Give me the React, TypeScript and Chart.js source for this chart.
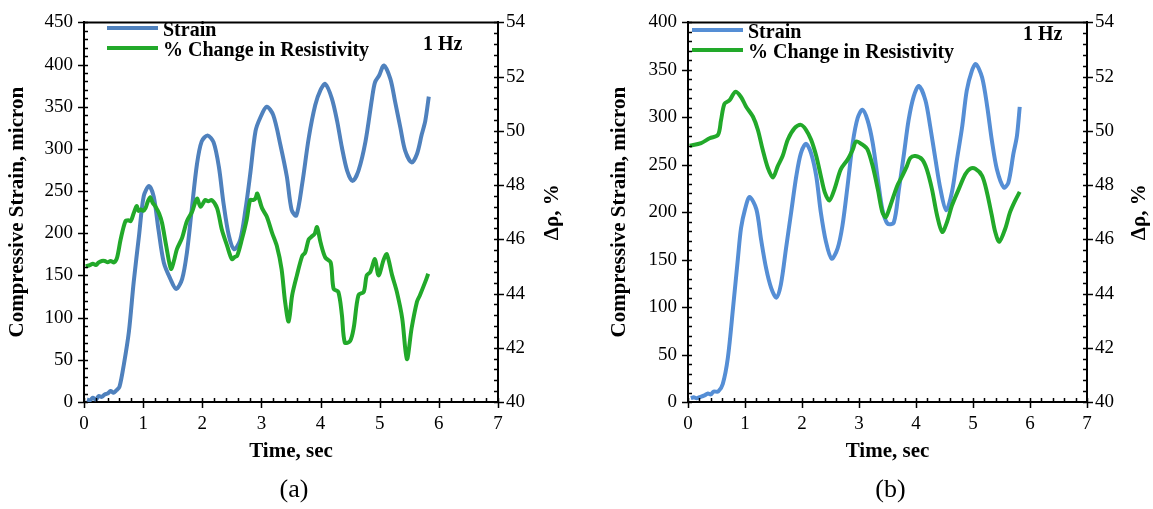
import React, { useEffect, useRef } from "react";
import { Chart, registerables } from "chart.js";

Chart.register(...registerables);

// ---------- Panel (a) data ----------
const aStrainTime = [0.05, 0.1, 0.15, 0.2, 0.25, 0.3, 0.35, 0.4, 0.45, 0.5, 0.55, 0.6, 0.675, 0.76, 0.84, 0.93, 1.01, 1.1, 1.18, 1.26, 1.35, 1.46, 1.56, 1.66, 1.74, 1.82, 1.91, 1.99, 2.09, 2.19, 2.28, 2.36, 2.45, 2.54, 2.64, 2.73, 2.81, 2.9, 2.98, 3.09, 3.2, 3.32, 3.43, 3.51, 3.59, 3.69, 3.8, 3.91, 4.0, 4.08, 4.19, 4.28, 4.36, 4.45, 4.54, 4.64, 4.76, 4.87, 4.92, 4.99, 5.07, 5.18, 5.26, 5.35, 5.43, 5.54, 5.63, 5.71, 5.77, 5.83];
const aStrain = [3, 2, 5, 3, 7, 6, 9, 10, 13, 11, 14, 18, 45, 84, 142, 197, 244, 256, 243, 204, 165, 146, 134, 146, 177, 227, 282, 309, 316, 308, 279, 235, 197, 181, 192, 228, 270, 321, 337, 350, 340, 305, 267, 228, 221, 259, 313, 352, 370, 377, 360, 333, 302, 274, 262, 274, 309, 360, 379, 387, 399, 383, 356, 325, 298, 284, 294, 317, 333, 362];
const aResTime = [0.03, 0.1, 0.15, 0.2, 0.25, 0.3, 0.35, 0.4, 0.45, 0.51, 0.56, 0.62, 0.7, 0.75, 0.79, 0.84, 0.89, 0.92, 0.96, 1.0, 1.04, 1.08, 1.12, 1.16, 1.21, 1.27, 1.32, 1.39, 1.47, 1.52, 1.57, 1.66, 1.74, 1.83, 1.91, 1.97, 2.05, 2.1, 2.16, 2.25, 2.33, 2.42, 2.5, 2.55, 2.59, 2.67, 2.75, 2.81, 2.86, 2.9, 2.93, 3.01, 3.09, 3.18, 3.26, 3.34, 3.4, 3.46, 3.52, 3.6, 3.69, 3.74, 3.8, 3.86, 3.9, 3.94, 4.0, 4.08, 4.17, 4.22, 4.3, 4.36, 4.41, 4.5, 4.56, 4.64, 4.73, 4.78, 4.84, 4.92, 4.98, 5.07, 5.12, 5.21, 5.29, 5.38, 5.46, 5.54, 5.63, 5.68, 5.77, 5.82];
const aRes = [45.0, 45.05, 45.1, 45.05, 45.15, 45.2, 45.2, 45.15, 45.2, 45.15, 45.33, 46.0, 46.67, 46.7, 46.67, 46.96, 47.23, 47.05, 47.1, 47.05, 47.15, 47.4, 47.55, 47.35, 47.2, 46.95, 46.6, 45.76, 44.91, 45.2, 45.63, 46.06, 46.67, 47.03, 47.5, 47.2, 47.45, 47.4, 47.45, 47.15, 46.36, 45.76, 45.27, 45.35, 45.39, 46.0, 46.72, 47.45, 47.45, 47.51, 47.69, 47.15, 46.84, 46.24, 45.76, 44.91, 43.7, 42.97, 43.94, 44.67, 45.39, 45.51, 46.0, 46.12, 46.2, 46.45, 45.88, 45.33, 45.15, 44.18, 44.06, 43.22, 42.19, 42.25, 42.73, 43.94, 44.06, 44.67, 44.79, 45.27, 44.67, 45.27, 45.45, 44.67, 44.06, 43.09, 41.58, 42.73, 43.7, 43.94, 44.43, 44.73];

// ---------- Panel (b) data ----------
const bStrainTime = [0.05, 0.1, 0.15, 0.2, 0.29, 0.35, 0.4, 0.45, 0.53, 0.61, 0.7, 0.79, 0.875, 0.93, 1.0, 1.08, 1.2, 1.28, 1.37, 1.46, 1.55, 1.63, 1.72, 1.81, 1.9, 1.98, 2.07, 2.16, 2.25, 2.33, 2.42, 2.52, 2.625, 2.71, 2.8, 2.89, 2.975, 3.06, 3.15, 3.24, 3.33, 3.41, 3.5, 3.61, 3.7, 3.79, 3.87, 3.96, 4.05, 4.165, 4.25, 4.34, 4.43, 4.53, 4.63, 4.72, 4.81, 4.89, 4.98, 5.05, 5.16, 5.25, 5.33, 5.42, 5.54, 5.62, 5.71, 5.77, 5.82];
const bStrain = [4, 5, 4, 5, 7, 9, 8, 11, 11, 19, 47, 99, 151, 183, 203, 216, 203, 172, 141, 120, 110, 124, 162, 200, 238, 262, 272, 262, 238, 200, 169, 151, 162, 186, 228, 273, 299, 308, 297, 273, 235, 203, 188, 189, 224, 262, 297, 322, 333, 318, 290, 256, 224, 202, 221, 256, 290, 328, 349, 356, 342, 311, 276, 245, 226, 231, 262, 280, 311];
const bResTime = [0.03, 0.23, 0.38, 0.525, 0.58, 0.64, 0.73, 0.83, 0.93, 1.02, 1.14, 1.225, 1.31, 1.4, 1.49, 1.575, 1.66, 1.75, 1.87, 1.98, 2.07, 2.16, 2.25, 2.33, 2.4, 2.48, 2.57, 2.68, 2.8, 2.89, 2.95, 3.06, 3.15, 3.24, 3.33, 3.41, 3.47, 3.55, 3.67, 3.76, 3.84, 3.9, 3.99, 4.11, 4.19, 4.28, 4.37, 4.46, 4.545, 4.63, 4.75, 4.865, 4.95, 5.04, 5.16, 5.245, 5.33, 5.39, 5.46, 5.565, 5.65, 5.74, 5.82];
const bRes = [49.45, 49.55, 49.73, 49.85, 50.4, 51.0, 51.13, 51.44, 51.25, 50.89, 50.52, 50.04, 49.31, 48.64, 48.28, 48.7, 49.07, 49.67, 50.1, 50.22, 50.04, 49.67, 49.07, 48.34, 47.73, 47.43, 47.85, 48.58, 48.94, 49.31, 49.61, 49.49, 49.31, 48.7, 47.85, 47.0, 46.82, 47.24, 47.97, 48.34, 48.7, 49.0, 49.07, 48.94, 48.58, 47.85, 46.88, 46.27, 46.64, 47.24, 47.85, 48.4, 48.6, 48.6, 48.34, 47.73, 46.88, 46.27, 45.91, 46.39, 47.0, 47.43, 47.75];

// ---------- Axis definitions / labels ----------
const timeRange = [0, 7];
const timeStep = 1;
const resRange = [40, 54];
const resStep = 2;
const aStrainRange = [0, 450];
const bStrainRange = [0, 400];
const strainStep = 50;

const seriesLabels = ["Strain", "% Change in Resistivity"];
const xTitle = "Time, sec";
const yTitle = "Compressive Strain, micron";
const y2Title = "Δρ, %";
const freqLabel = "1 Hz";

const SERIF = "'Liberation Serif', 'Times New Roman', Times, serif";
const GREEN = "#22A92A";

const zip = (xs: number[], ys: number[]) => xs.map((x, i) => ({ x, y: ys[i] }));

type PanelCfg = {
  left: number;
  width: number;
  top: number;
  leftW: number;
  rightW: number;
  strainT: number[];
  strain: number[];
  resT: number[];
  res: number[];
  strainRange: number[];
  blue: string;
  yTitleX: number;
  y2TitleX: number;
  legendX: number;
  legendY: number;
  hzX: number;
  hzY: number;
  tag: string;
};

function Panel({ cfg }: { cfg: PanelCfg }) {
  const ref = useRef<HTMLCanvasElement | null>(null);
  useEffect(() => {
    const H = 509;
    const bottomPx = 402;
    const decor = {
      id: "decor",
      afterDraw(chart: any) {
        const ctx = chart.ctx as CanvasRenderingContext2D;
        const ca = chart.chartArea;
        const xs = chart.scales.x;
        const ys = chart.scales.y;
        const y2 = chart.scales.y1;
        ctx.save();
        ctx.strokeStyle = "#000";
        // top frame line
        ctx.lineWidth = 2;
        ctx.beginPath();
        ctx.moveTo(ca.left - 1, ca.top);
        ctx.lineTo(ca.right + 1, ca.top);
        ctx.stroke();
        ctx.lineWidth = 1.5;
        ctx.beginPath();
        // x ticks
        const nx = Math.round((timeRange[1] - timeRange[0]) / 0.2);
        for (let i = 0; i <= nx; i++) {
          const v = timeRange[0] + i * 0.2;
          const px = Math.round(xs.getPixelForValue(v)) + 0.5;
          const major = i % 5 === 0;
          ctx.moveTo(px, ca.bottom - 4);
          ctx.lineTo(px, ca.bottom + (major ? 6 : 0));
        }
        // left y ticks
        const ny = Math.round((cfg.strainRange[1] - cfg.strainRange[0]) / 10);
        for (let i = 0; i <= ny; i++) {
          const v = cfg.strainRange[0] + i * 10;
          const py = Math.round(ys.getPixelForValue(v)) + 0.5;
          const major = i % 5 === 0;
          ctx.moveTo(ca.left + 4, py);
          ctx.lineTo(ca.left - (major ? 6 : 0), py);
        }
        // right y ticks
        const nr = Math.round((resRange[1] - resRange[0]) / 0.4);
        for (let i = 0; i <= nr; i++) {
          const v = resRange[0] + i * 0.4;
          const py = Math.round(y2.getPixelForValue(v)) + 0.5;
          const major = i % 5 === 0;
          ctx.moveTo(ca.right - 4, py);
          ctx.lineTo(ca.right + (major ? 6 : 0), py);
        }
        ctx.stroke();

        ctx.fillStyle = "#000";
        ctx.textBaseline = "middle";
        // y title
        ctx.font = `bold 21px ${SERIF}`;
        ctx.save();
        ctx.translate(cfg.yTitleX, (ca.top + ca.bottom) / 2);
        ctx.rotate(-Math.PI / 2);
        ctx.textAlign = "center";
        ctx.fillText(yTitle, 0, 0);
        ctx.restore();
        // right title
        ctx.save();
        ctx.translate(cfg.y2TitleX, (ca.top + ca.bottom) / 2);
        ctx.rotate(-Math.PI / 2);
        ctx.textAlign = "center";
        ctx.fillText(y2Title, 0, 0);
        ctx.restore();
        // x title
        ctx.textAlign = "center";
        ctx.fillText(xTitle, (ca.left + ca.right) / 2, 452);
        // panel tag
        ctx.font = `26px ${SERIF}`;
        ctx.fillText(cfg.tag, (ca.left + ca.right) / 2 + 3, 490);
        // legend
        const colors = [cfg.blue, GREEN];
        ctx.font = `bold 20px ${SERIF}`;
        ctx.textAlign = "left";
        seriesLabels.forEach((lab, i) => {
          const yy = cfg.legendY + i * 20;
          ctx.strokeStyle = colors[i];
          ctx.lineWidth = 4;
          ctx.beginPath();
          ctx.moveTo(cfg.legendX, yy);
          ctx.lineTo(cfg.legendX + 51, yy);
          ctx.stroke();
          ctx.fillText(lab, cfg.legendX + 56, yy + 3);
        });
        // frequency annotation
        ctx.fillText(freqLabel, cfg.hzX, cfg.hzY);
        ctx.restore();
      },
    };

    const tickFont = { family: SERIF, size: 19 };
    const chart = new Chart(ref.current as HTMLCanvasElement, {
      type: "line",
      data: {
        datasets: [
          {
            label: seriesLabels[0],
            data: zip(cfg.strainT, cfg.strain),
            yAxisID: "y",
            borderColor: cfg.blue,
            backgroundColor: cfg.blue,
            borderWidth: 4,
            pointRadius: 0,
            tension: 0.3,
            fill: false,
            order: 1,
          },
          {
            label: seriesLabels[1],
            data: zip(cfg.resT, cfg.res),
            yAxisID: "y1",
            borderColor: GREEN,
            backgroundColor: GREEN,
            borderWidth: 4,
            pointRadius: 0,
            tension: 0.3,
            fill: false,
            order: 0,
          },
        ],
      },
      options: {
        animation: false,
        responsive: false,
        maintainAspectRatio: false,
        layout: { padding: { top: cfg.top, left: 0, right: 0, bottom: 0 } },
        plugins: { legend: { display: false }, tooltip: { enabled: false } },
        scales: {
          x: {
            type: "linear",
            min: timeRange[0],
            max: timeRange[1],
            ticks: { stepSize: timeStep, color: "#000", font: tickFont, padding: 11, maxRotation: 0 },
            grid: { display: false, drawTicks: false },
            border: { display: true, color: "#000", width: 2 },
            afterFit: (s: any) => {
              s.height = H - bottomPx;
            },
          },
          y: {
            type: "linear",
            position: "left",
            min: cfg.strainRange[0],
            max: cfg.strainRange[1],
            ticks: { stepSize: strainStep, color: "#000", font: tickFont, padding: 11 },
            grid: { display: false, drawTicks: false },
            border: { display: true, color: "#000", width: 2 },
            afterFit: (s: any) => {
              s.width = cfg.leftW;
            },
          },
          y1: {
            type: "linear",
            position: "right",
            min: resRange[0],
            max: resRange[1],
            ticks: { stepSize: resStep, color: "#000", font: tickFont, padding: 8 },
            grid: { display: false, drawTicks: false },
            border: { display: true, color: "#000", width: 2 },
            afterFit: (s: any) => {
              s.width = cfg.rightW;
            },
          },
        },
      },
      plugins: [decor],
    } as any);
    return () => chart.destroy();
  }, [cfg]);
  return (
    <canvas
      ref={ref}
      width={cfg.width}
      height={509}
      style={{ position: "absolute", left: cfg.left, top: 0, width: cfg.width, height: 509 }}
    />
  );
}

const panelA: PanelCfg = {
  left: 0,
  width: 580,
  top: 16,
  leftW: 84,
  rightW: 580 - 498,
  strainT: aStrainTime,
  strain: aStrain,
  resT: aResTime,
  res: aRes,
  strainRange: aStrainRange,
  blue: "#4F81BD",
  yTitleX: 18,
  y2TitleX: 553,
  legendX: 107,
  legendY: 28,
  hzX: 423,
  hzY: 45,
  tag: "(a)",
};

const panelB: PanelCfg = {
  left: 580,
  width: 573,
  top: 18,
  leftW: 688 - 580,
  rightW: 1153 - 1087,
  strainT: bStrainTime,
  strain: bStrain,
  resT: bResTime,
  res: bRes,
  strainRange: bStrainRange,
  blue: "#558ED5",
  yTitleX: 40,
  y2TitleX: 560,
  legendX: 112,
  legendY: 30,
  hzX: 443,
  hzY: 35,
  tag: "(b)",
};

export default function App() {
  return (
    <div style={{ position: "fixed", left: 0, top: 0, width: 1153, height: 509, background: "#fff" }}>
      <Panel cfg={panelA} />
      <Panel cfg={panelB} />
    </div>
  );
}
